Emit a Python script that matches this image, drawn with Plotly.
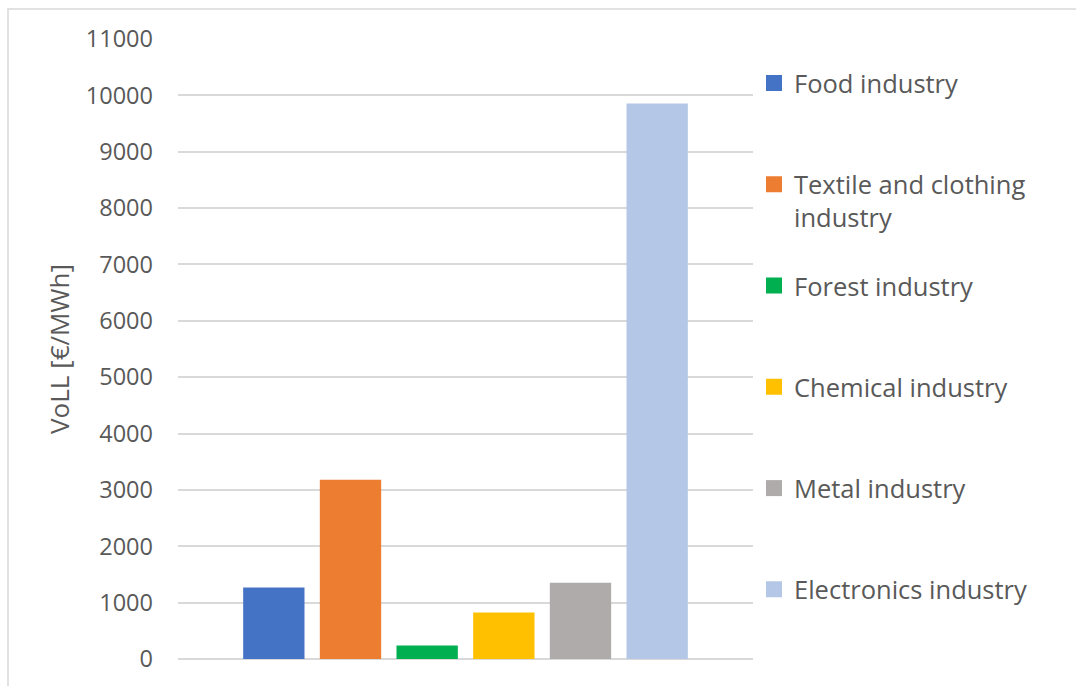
import plotly.graph_objects as go

categories = ["Food industry", "Textile and clothing<br>industry", "Forest industry",
              "Chemical industry", "Metal industry", "Electronics industry"]
values = [1270, 3180, 240, 825, 1355, 9855]
colors = ["#4472C4", "#ED7D31", "#00B050", "#FFC000", "#AFABAB", "#B4C7E7"]
y_ticks = list(range(0, 11001, 1000))

W, H = 1076, 686
ml, mr, mt, mb = 178, 323, 39, 25
pw, ph = W - ml - mr, H - mt - mb

fig = go.Figure()
for name, v, c in zip(categories, values, colors):
    fig.add_trace(go.Bar(x=["VoLL"], y=[v], name=name, marker_color=c,
                         marker_line_width=0, showlegend=False))

legend_ids = ["legend"] + [f"legend{i}" for i in range(2, len(categories) + 1)]
for lid, name, c in zip(legend_ids, categories, colors):
    fig.add_trace(go.Scatter(x=[None], y=[None], mode="markers", name=name,
                             marker=dict(symbol="square", size=16, color=c, line_width=0),
                             legend=lid, showlegend=True))

font = "Open Sans, Liberation Sans, Arial, sans-serif"
legend_cfg = {}
first_center, step = 83, 101.6
for i, lid in enumerate(legend_ids):
    top_px = first_center + i * step - 23
    legend_cfg[lid] = dict(x=(754 - ml) / pw, xanchor="left",
                           y=(H - mb - top_px) / ph, yanchor="top",
                           valign="top", font=dict(size=25.5, color="#595959"),
                           bgcolor="rgba(0,0,0,0)")

fig.update_layout(
    width=W, height=H,
    margin=dict(l=ml, r=mr, t=mt, b=mb),
    paper_bgcolor="white", plot_bgcolor="white",
    barmode="group", bargap=0.2, bargroupgap=0.2,
    font=dict(family=font, size=23, color="#595959"),
    showlegend=True,
    xaxis=dict(showticklabels=False, showgrid=False, zeroline=False, showline=False),
    yaxis=dict(range=[0, 11000], tickvals=y_ticks, ticktext=[str(t) for t in y_ticks],
               showgrid=True, gridcolor="#D9D9D9", gridwidth=1.5,
               zeroline=True, zerolinecolor="#D9D9D9", zerolinewidth=1.5,
               showline=False, ticks="", ticklabelstandoff=24,
               tickfont=dict(size=23.5, color="#595959"),
               title=dict(text="VoLL [€/MWh]", standoff=8,
                          font=dict(size=26, color="#595959"))),
    shapes=[dict(type="rect", xref="paper", yref="paper",
                 x0=(8 - ml) / pw, x1=(W + 20 - ml) / pw,
                 y0=(H - mb - (H + 20)) / ph, y1=(H - mb - 9) / ph,
                 line=dict(color="#D9D9D9", width=1.5), fillcolor="rgba(0,0,0,0)", layer="below")],
    **legend_cfg,
)

fig.write_html("out.html")
